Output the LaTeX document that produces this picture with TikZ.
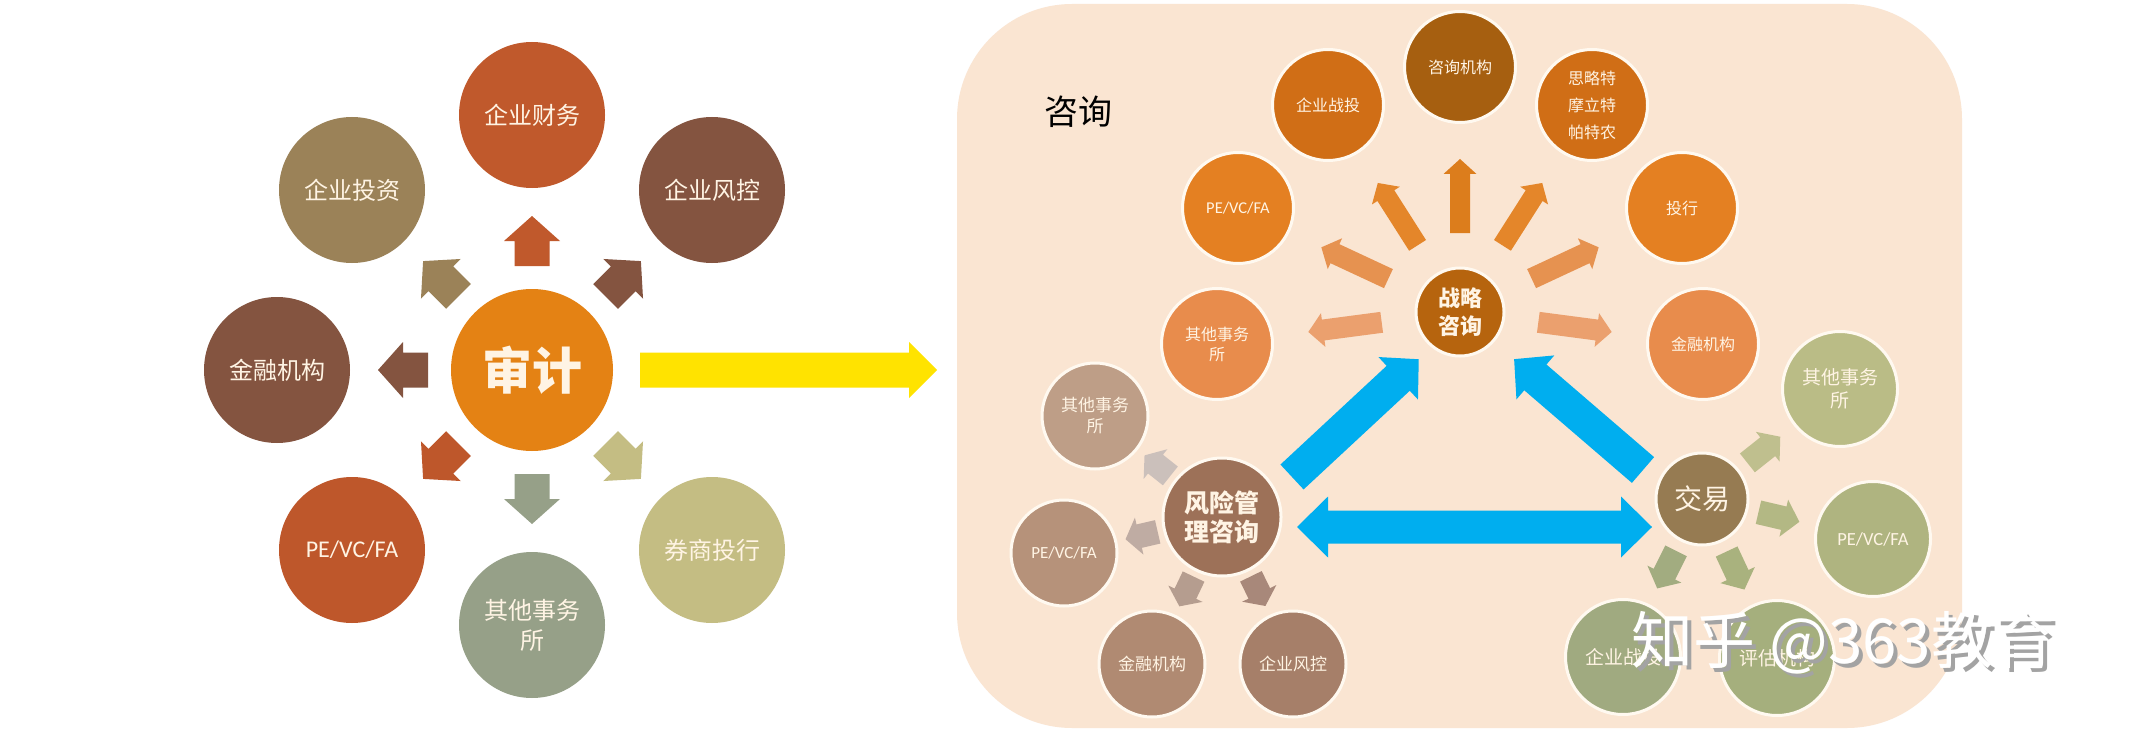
\documentclass[tikz,border=0pt]{standalone}
\usepackage{fontspec}
\setmainfont{Noto Sans CJK SC}
\newfontfamily\lat{Carlito}
\usetikzlibrary{calc}

\definecolor{cAudit}{HTML}{E48214}
\definecolor{cFin}{HTML}{C0592C}
\definecolor{cBrown}{HTML}{845440}
\definecolor{cKhaki}{HTML}{C4BD83}
\definecolor{cSage}{HTML}{96A088}
\definecolor{cPE}{HTML}{BE572B}
\definecolor{cInv}{HTML}{9B8258}
\definecolor{cYel}{HTML}{FFE300}
\definecolor{cBg}{HTML}{FAE5D2}
\definecolor{cStrat}{HTML}{B6640E}
\definecolor{cS1}{HTML}{A65F10}
\definecolor{cS2}{HTML}{D06E16}
\definecolor{cS3}{HTML}{E48022}
\definecolor{cS4}{HTML}{E88C4C}
\definecolor{aS1}{HTML}{DC7D1C}
\definecolor{aS2}{HTML}{E4862A}
\definecolor{aS3}{HTML}{E69250}
\definecolor{aS4}{HTML}{EBA06E}
\definecolor{cRisk}{HTML}{9D7158}
\definecolor{cR1}{HTML}{BE9E87}
\definecolor{cR2}{HTML}{B6927A}
\definecolor{cR3}{HTML}{B08A72}
\definecolor{cR4}{HTML}{A67F69}
\definecolor{aR1}{HTML}{CBC0BB}
\definecolor{aR2}{HTML}{BFACA3}
\definecolor{aR3}{HTML}{B59D8F}
\definecolor{aR4}{HTML}{A8887A}
\definecolor{cTrade}{HTML}{967B52}
\definecolor{cT1}{HTML}{BABC86}
\definecolor{cT2}{HTML}{AFB480}
\definecolor{cT3}{HTML}{A5AF7D}
\definecolor{cT4}{HTML}{A0AA80}
\definecolor{aT1}{HTML}{BFBF8E}
\definecolor{aT2}{HTML}{B3B884}
\definecolor{aT3}{HTML}{A9B27E}
\definecolor{aT4}{HTML}{A2AC80}
\definecolor{cBlue}{HTML}{00AEEF}
\definecolor{txtc}{HTML}{FFF4E4}
\definecolor{ring}{HTML}{FFF9F0}
\definecolor{wmshadow}{HTML}{A3A3A3}

% block arrow: color, origin, angle, r1, r2, shaft half width, head half width, head length
\newcommand{\barr}[8]{\begin{scope}[shift={#2}, rotate=#3]
  \fill[#1] (#4,-#6) -- ({#5-#8},-#6) -- ({#5-#8},-#7) -- (#5,0) -- ({#5-#8},#7) -- ({#5-#8},#6) -- (#4,#6) -- cycle;
\end{scope}}
% double block arrow
\newcommand{\dbarr}[8]{\begin{scope}[shift={#2}, rotate=#3]
  \fill[#1] (#4,0) -- ({#4+#8},#7) -- ({#4+#8},#6) -- ({#5-#8},#6) -- ({#5-#8},#7) -- (#5,0) -- ({#5-#8},-#7) -- ({#5-#8},-#6) -- ({#4+#8},-#6) -- ({#4+#8},-#7) -- cycle;
\end{scope}}

\tikzset{
  bub/.style={circle, inner sep=0pt, minimum size=#1, text=txtc, align=center},
  lbub/.style={bub=146pt, font=\fontsize{24}{30}\selectfont},
  rbub/.style={bub=#1, draw=ring, line width=3pt},
  sbub/.style={rbub=111pt, font=\fontsize{16}{20}\selectfont},
  kbub/.style={rbub=106pt, font=\fontsize{17}{21}\selectfont},
  tbub/.style={rbub=115pt, font=\fontsize{19}{23}\selectfont},
}

\begin{document}
\begin{tikzpicture}[x=1pt, y=-1pt]
\useasboundingbox (0,0) rectangle (2129,733);
\fill[white] (0,0) rectangle (2129,733);

% ---------------- left cluster ----------------
\node[bub=162pt, fill=cAudit, font=\fontsize{50}{54}\selectfont\bfseries] (A) at (532,370) {审计};
\node[lbub, fill=cFin]   (A1) at (532,115) {企业财务};
\node[lbub, fill=cBrown] (A2) at (712,190) {企业风控};
\node[lbub, fill=cKhaki] (A3) at (712,550) {券商投行};
\node[lbub, fill=cSage]  (A4) at (532,625) {其他事务\\所};
\node[lbub, fill=cPE]    (A5) at (352,550) {\lat PE/VC/FA};
\node[lbub, fill=cBrown] (A6) at (277,370) {金融机构};
\node[lbub, fill=cInv]   (A7) at (352,190) {企业投资};

\barr{cFin}{(A)}{90}{104}{154}{17.5}{28}{25}
\barr{cBrown}{(A)}{45}{104}{154}{17.5}{28}{25}
\barr{cKhaki}{(A)}{-45}{104}{154}{17.5}{28}{25}
\barr{cSage}{(A)}{-90}{104}{154}{17.5}{28}{25}
\barr{cPE}{(A)}{-135}{104}{154}{17.5}{28}{25}
\barr{cBrown}{(A)}{180}{104}{154}{17.5}{28}{25}
\barr{cInv}{(A)}{135}{104}{154}{17.5}{28}{25}

% yellow arrow
\barr{cYel}{(A)}{0}{108}{405}{17.5}{28}{28}

% ---------------- right panel ----------------
\fill[cBg, rounded corners=115pt] (957,4) rectangle (1962,728);
\node[font=\fontsize{34}{38}\selectfont, text=black] (lab) at (1078,112) {咨询};

% strategy cluster
\node[rbub=88pt, fill=cStrat, font=\fontsize{22}{28}\selectfont\bfseries] (S) at (1460,312) {战略\\咨询};
\node[sbub, fill=cS1] (S1) at (1460,67) {咨询机构};
\node[sbub, fill=cS2] (S2) at (1328,105) {企业战投};
\node[sbub, fill=cS2, font=\fontsize{16}{27}\selectfont] (S3) at (1592,105) {思略特\\摩立特\\帕特农};
\node[sbub, fill=cS3, font=\fontsize{16.5}{20}\selectfont\lat] (S4) at (1238,208) {PE/VC/FA};
\node[sbub, fill=cS3] (S5) at (1682,208) {投行};
\node[sbub, fill=cS4] (S6) at (1217,344) {其他事务\\所};
\node[sbub, fill=cS4] (S7) at (1703,344) {金融机构};

\barr{aS1}{(S)}{90}{79}{153}{10}{16.5}{15}
\barr{aS2}{(S)}{122.5}{79}{153}{10}{16.5}{15}
\barr{aS2}{(S)}{57.5}{79}{153}{10}{16.5}{15}
\barr{aS3}{(S)}{155}{79}{153}{10.5}{17}{15}
\barr{aS3}{(S)}{25}{79}{153}{10.5}{17}{15}
\barr{aS4}{(S)}{187.5}{79}{153}{10.5}{17}{15}
\barr{aS4}{(S)}{-7.5}{79}{153}{10.5}{17}{15}

% risk cluster
\node[rbub=118pt, fill=cRisk, font=\fontsize{25}{29}\selectfont\bfseries] (R) at (1222,517) {风险管\\理咨询};
\node[kbub, fill=cR1] (R1) at (1095,416) {其他事务\\所};
\node[kbub, fill=cR2, font=\fontsize{17}{21}\selectfont\lat] (R2) at (1064,553) {PE/VC/FA};
\node[kbub, fill=cR3] (R3) at (1152,664) {金融机构};
\node[kbub, fill=cR4] (R4) at (1293,664) {企业风控};

\barr{aR1}{(R)}{141.5}{66}{99}{12}{19}{14}
\barr{aR2}{(R)}{193}{66}{99}{12}{19}{14}
\barr{aR3}{(R)}{244.5}{66}{99}{12}{19}{14}
\barr{aR4}{(R)}{296}{66}{99}{12}{19}{14}

% trade cluster
\node[rbub=92pt, fill=cTrade, font=\fontsize{28}{32}\selectfont] (T) at (1702,499) {交易};
\node[tbub, fill=cT1] (T1) at (1840,389) {其他事务\\所};
\node[tbub, fill=cT2, font=\fontsize{18.5}{22}\selectfont\lat] (T2) at (1873,539) {PE/VC/FA};
\node[tbub, fill=cT3] (T3) at (1777,658) {评估机构};
\node[tbub, fill=cT4] (T4) at (1623,657) {企业战投};

\barr{aT1}{(T)}{38.5}{58}{100}{12}{19}{16}
\barr{aT2}{(T)}{-13.2}{58}{100}{12}{19}{16}
\barr{aT3}{(T)}{-64.9}{58}{100}{12}{19}{16}
\barr{aT4}{(T)}{-116.6}{58}{100}{12}{19}{16}

% blue arrows
\barr{cBlue}{($(R)+(70,-40)$)}{42.9}{0}{173}{17}{29}{28}
\barr{cBlue}{($(T)+(-59,-29)$)}{139.3}{0}{170}{17}{29}{28}
\dbarr{cBlue}{($(R)+(75,10)$)}{0}{0}{355}{16.5}{30.5}{31}

% watermark
\node[text=wmshadow, font=\fontsize{62}{66}\selectfont, anchor=west] (wms) at (1632,647) {知乎 @363教育};
\node[text=white, font=\fontsize{62}{66}\selectfont, anchor=west] (wm) at (1628,643) {知乎 @363教育};
\end{tikzpicture}
\end{document}
